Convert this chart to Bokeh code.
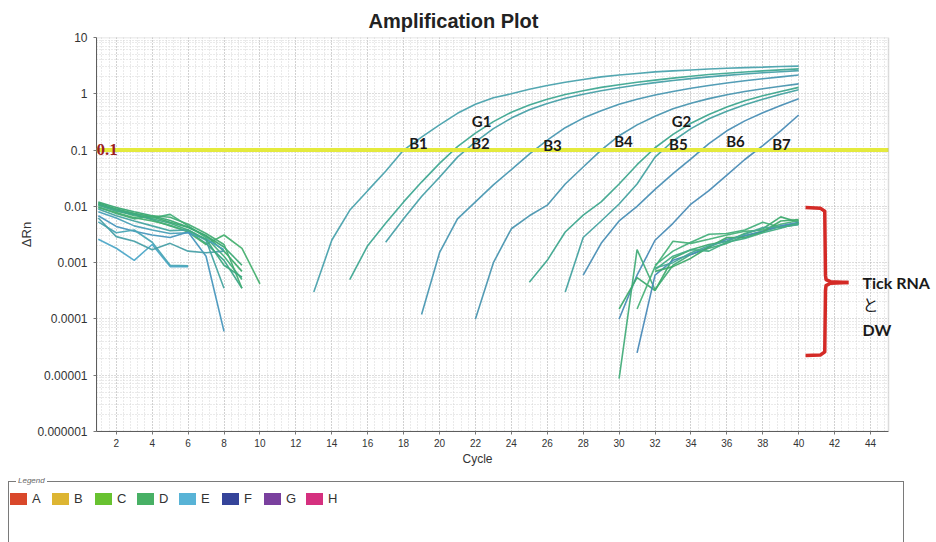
from bokeh.plotting import figure
from bokeh.models import (Range1d, FixedTicker, SingleIntervalTicker, NumeralTickFormatter,
                          Span, Label, BoxAnnotation, Title, Div)
from bokeh.layouts import column
from bokeh.embed import file_html
from bokeh.resources import INLINE

# ---------------- data (ΔRn per cycle) ----------------
threshold = 0.1

b1_start = 13
b1_dRn = [0.0003, 0.0025, 0.0085, 0.019, 0.042, 0.1, 0.17, 0.28, 0.45, 0.65, 0.85, 1.0, 1.2, 1.4,
          1.6, 1.8, 2.0, 2.15, 2.3, 2.45, 2.55, 2.65, 2.75, 2.85, 2.92, 2.98, 3.05, 3.1]
g1_start = 15
g1_dRn = [0.0005, 0.002, 0.005, 0.012, 0.027, 0.058, 0.115, 0.2, 0.32, 0.47, 0.63, 0.8, 0.97, 1.13,
          1.3, 1.45, 1.6, 1.75, 1.9, 2.05, 2.2, 2.32, 2.44, 2.55, 2.66, 2.77]
b2_start = 17
b2_dRn = [0.0023, 0.006, 0.015, 0.033, 0.075, 0.14, 0.24, 0.37, 0.52, 0.67, 0.83, 0.98, 1.13, 1.28,
          1.43, 1.58, 1.72, 1.86, 2.0, 2.12, 2.24, 2.36, 2.47, 2.58]
b3_start = 19
b3_dRn = [0.00012, 0.0015, 0.006, 0.012, 0.024, 0.045, 0.085, 0.15, 0.25, 0.37, 0.5, 0.65, 0.8,
          0.95, 1.1, 1.25, 1.4, 1.55, 1.7, 1.85, 2.0, 2.15]
b4_start = 22
b4_dRn = [0.0001, 0.001, 0.004, 0.0068, 0.0105, 0.025, 0.05, 0.1, 0.18, 0.28, 0.4, 0.54, 0.68, 0.82,
          0.96, 1.1, 1.23, 1.36, 1.5]
g2_start = 25
g2_dRn = [0.00045, 0.0011, 0.0035, 0.007, 0.012, 0.025, 0.055, 0.11, 0.19, 0.3, 0.43, 0.58, 0.75,
          0.92, 1.1, 1.3]
b5_start = 27
b5_dRn = [0.0003, 0.0028, 0.0055, 0.011, 0.025, 0.075, 0.145, 0.24, 0.36, 0.49, 0.64, 0.8, 0.98, 1.18]
b6_start = 28
b6_dRn = [0.0006, 0.0022, 0.0055, 0.01, 0.02, 0.038, 0.07, 0.13, 0.22, 0.33, 0.46, 0.62, 0.82]
b7_start = 30
b7_dRn = [0.0001, 0.0006, 0.0025, 0.005, 0.011, 0.019, 0.036, 0.068, 0.12, 0.22, 0.42]

# early-cycle background traces (start at cycle 1)
early_1 = [0.0115, 0.009, 0.0075, 0.0065, 0.0052, 0.0042, 0.003, 0.0016, 0.0007]
early_2 = [0.011, 0.0085, 0.0068, 0.0062, 0.0072, 0.0045, 0.0028, 0.0013, 0.0005]
early_3 = [0.0105, 0.0082, 0.0072, 0.0058, 0.0045, 0.0036, 0.0022, 0.0011, 0.00035]
early_4 = [0.0095, 0.0078, 0.0063, 0.0055, 0.0046, 0.0035, 0.0021, 0.0031, 0.0018, 0.00042]
early_5 = [0.012, 0.0095, 0.008, 0.0068, 0.0056, 0.0043, 0.003, 0.0019, 0.0009]
early_6 = [0.008, 0.0062, 0.0045, 0.0038, 0.0033, 0.0034, 0.0026, 0.0017]
early_7 = [0.0068, 0.0044, 0.0036, 0.0031, 0.0028, 0.0035, 0.0013, 0.00006]
early_8 = [0.0026, 0.0018, 0.0011, 0.0021, 0.00085, 0.00085]
early_9 = [0.0053, 0.0034, 0.0038, 0.0023, 0.0009, 0.00088]
early_10 = [0.0062, 0.0029, 0.0024, 0.0017, 0.0022, 0.0016, 0.0015, 0.0016]
early_11 = [0.0098, 0.0075, 0.006, 0.0068, 0.0064, 0.0048, 0.0033, 0.0021, 0.00035]
early_12 = [0.009, 0.0068, 0.0055, 0.0045, 0.0037, 0.0038, 0.0025, 0.00035]
early_13 = [0.0108, 0.0088, 0.0072, 0.006, 0.005, 0.0038, 0.0026, 0.0009, 0.00055]

# late traces: Tick RNA and DW (start cycle, values)
late_1_start, late_1 = 30, [0.0000087, 0.0017, 0.00033, 0.0009, 0.0014, 0.0018, 0.0022, 0.003, 0.0036, 0.0044, 0.005]
late_2_start, late_2 = 30, [0.00015, 0.00054, 0.00032, 0.0012, 0.0017, 0.0021, 0.0024, 0.0033, 0.004, 0.0065, 0.0052]
late_3_start, late_3 = 31, [0.00015, 0.00085, 0.0024, 0.0022, 0.0026, 0.0031, 0.0036, 0.0038, 0.0048, 0.0056]
late_4_start, late_4 = 31, [0.000025, 0.0006, 0.0011, 0.0014, 0.0019, 0.0026, 0.003, 0.0036, 0.0045, 0.0052]
late_5_start, late_5 = 32, [0.0009, 0.0016, 0.0023, 0.0032, 0.0033, 0.0038, 0.0052, 0.0042, 0.0048]
late_6_start, late_6 = 32, [0.0007, 0.00085, 0.0012, 0.0019, 0.0028, 0.0028, 0.0035, 0.0055, 0.0058]
late_7_start, late_7 = 32, [0.0008, 0.001, 0.0015, 0.002, 0.0024, 0.0032, 0.0042, 0.0043, 0.0047]
late_8_start, late_8 = 32, [0.00075, 0.0013, 0.0017, 0.0016, 0.0023, 0.0027, 0.0034, 0.0041, 0.0051]

x_first, x_last = 0.9, 45.0
y_ticks = [1e-6, 1e-5, 1e-4, 1e-3, 1e-2, 1e-1, 1, 10]
legend_names = ["A", "B", "C", "D", "E", "F", "G", "H"]

# ---------------- styles ----------------
amp_curves = [(b1_start, b1_dRn, "#4aa2ad"), (g1_start, g1_dRn, "#3fa892"), (b2_start, b2_dRn, "#48a0a8"),
              (b3_start, b3_dRn, "#4a98b2"), (b4_start, b4_dRn, "#4a96b0"), (g2_start, g2_dRn, "#3ea68e"),
              (b5_start, b5_dRn, "#45a2a0"), (b6_start, b6_dRn, "#4a8fb5"), (b7_start, b7_dRn, "#4a8cb6")]
early_curves = [(early_1, "#3dab6c"), (early_2, "#44b07a"), (early_3, "#3ea58a"), (early_4, "#47b070"),
                (early_5, "#3aa874"), (early_6, "#4aa0b8"), (early_7, "#4897bd"), (early_8, "#4ea8c8"),
                (early_9, "#4aa6b5"), (early_10, "#49a0a8"), (early_11, "#45ad75"), (early_12, "#46a4a0"),
                (early_13, "#3eaa80")]
late_curves = [(late_1_start, late_1, "#44ad7a"), (late_2_start, late_2, "#3fab70"),
               (late_3_start, late_3, "#4ab27a"), (late_4_start, late_4, "#4a8ab8"),
               (late_5_start, late_5, "#46b07c"), (late_6_start, late_6, "#3faa6c"),
               (late_7_start, late_7, "#48a896"), (late_8_start, late_8, "#43ad84")]
legend_colors = ["#d9482b", "#ddb532", "#68c230", "#48b065", "#58b3d6", "#35449a", "#7a409e", "#d5307f"]

FONT = "Liberation Sans"
FRAME_LEFT, FRAME_RIGHT = 96, 888      # pixel layout of plotting area
PX_PER_CYCLE = (FRAME_RIGHT - FRAME_LEFT) / (x_last - x_first)
FIG_W, FIG_H = 936, 476
x_view_end = x_first + (FIG_W - FRAME_LEFT) / PX_PER_CYCLE

p = figure(width=FIG_W, height=FIG_H, x_range=Range1d(x_first, x_view_end), y_range=Range1d(1e-6, 10),
           y_axis_type="log", output_backend="svg", toolbar_location=None,
           min_border_left=FRAME_LEFT, min_border_right=0, min_border_top=37, min_border_bottom=45)
p.background_fill_color = "white"
p.border_fill_color = "white"
p.outline_line_color = None

p.title.text = "Amplification Plot"
p.title.align = "left"
p.title.offset = 272
p.title.standoff = 11
p.title.text_font = FONT
p.title.text_font_size = "20px"
p.title.text_font_style = "bold"
p.title.text_color = "#222222"

y_minor = [k * t for t in y_ticks[:-1] for k in range(2, 10)]
p.yaxis.ticker = FixedTicker(ticks=y_ticks, minor_ticks=y_minor)
p.yaxis.formatter = NumeralTickFormatter(format="0.[000000]")
p.xaxis.ticker = SingleIntervalTicker(interval=2, num_minor_ticks=5)
p.xaxis.bounds = (x_first, x_last)

for ax in (p.xaxis, p.yaxis):
    ax.axis_line_color = "#555555"
    ax.major_tick_line_color = "#777777"
    ax.major_tick_out = 3
    ax.major_tick_in = 0
    ax.minor_tick_line_color = None
    ax.major_label_text_font = FONT
    ax.major_label_text_color = "#333333"
    ax.axis_label_text_font = FONT
    ax.axis_label_text_font_style = "normal"
    ax.axis_label_text_color = "#333333"
    ax.axis_label_text_font_size = "12px"
p.yaxis.major_label_text_font_size = "12px"
p.xaxis.major_label_text_font_size = "10px"
p.xaxis.major_label_standoff = 3
p.yaxis.axis_label = "ΔRn"
p.yaxis.axis_label_text_font_size = "13px"
p.yaxis.axis_label_standoff = 0

p.add_layout(Title(text="Cycle", align="left", offset=366, text_font=FONT, text_font_size="12px",
                   text_font_style="normal", text_color="#333333", standoff=0), "below")

for g in (p.xgrid, p.ygrid):
    g.grid_line_color = "#b8b8b8"
    g.grid_line_dash = "1 2"
    g.minor_grid_line_color = "#d4d4d4"
    g.minor_grid_line_dash = "1 2"
p.xgrid.bounds = (x_first, x_last)

def draw(start, vals, color):
    xs = list(range(start, start + len(vals)))
    p.line(xs, vals, line_color=color, line_width=1.6, line_alpha=0.95)

for start, vals, c in amp_curves:
    draw(start, vals, c)
for vals, c in early_curves:
    draw(1, vals, c)
for start, vals, c in late_curves:
    draw(start, vals, c)

# threshold
p.add_layout(Span(location=threshold, dimension="width", line_color="#e4ea3c", line_width=4))
p.add_layout(Label(x=x_first, y=threshold, text="0.1", text_font="Liberation Serif", text_font_style="bold",
                   text_font_size="17px", text_color="#9c1f23", text_baseline="alphabetic",
                   x_offset=0, y_offset=1))

# blank margin right of the plotting area, and the plotting-area border
p.add_layout(BoxAnnotation(left=x_last, fill_color="white", fill_alpha=1, line_alpha=0))
p.add_layout(BoxAnnotation(left=x_first, right=x_last, bottom=1e-6, top=10, fill_alpha=0,
                           line_color="#8a8a8a", line_width=1.5))

# sample labels (annotation placement)
label_text = ["B1", "B2", "G1", "B3", "B4", "G2", "B5", "B6", "B7"]
label_x = [18.83, 22.28, 22.34, 26.29, 30.24, 33.47, 33.3, 36.48, 39.04]
label_y = [0.131, 0.131, 0.329, 0.121, 0.142, 0.329, 0.126, 0.142, 0.129]
for t, lx, ly in zip(label_text, label_x, label_y):
    p.add_layout(Label(x=lx, y=ly, text=t, text_align="center", text_baseline="middle",
                       text_font="Lato", text_font_style="bold", text_font_size="15px",
                       text_color="#1a1a1a"))

# red brace around Tick RNA / DW traces
brace_x = [40.38, 41.2, 41.45, 41.49, 41.52, 41.77, 42.77]
brace_top_y = [0.0095, 0.0093, 0.0082, 0.0006, 0.0005, 0.00046, 0.000445]
brace_bot_y = [0.0000225, 0.0000228, 0.000026, 0.00032, 0.00039, 0.00043, 0.000445]
p.line(brace_x, brace_top_y, line_color="#d42a26", line_width=3.5, line_join="round")
p.line(brace_x, brace_bot_y, line_color="#d42a26", line_width=3.5, line_join="round")

for t, ly, fnt in [("Tick RNA", 0.000445, "Lato"), ("と", 0.000181, "Noto Sans CJK JP"),
                   ("DW", 0.0000652, "Lato")]:
    p.add_layout(Label(x=43.55, y=ly, text=t, text_align="left", text_baseline="middle",
                       text_font=fnt, text_font_style="bold" if fnt == "Lato" else "normal",
                       text_font_size="16px", text_color="#1a1a1a"))

# ---------------- legend group box ----------------
parts = ['<div style="position:relative;width:936px;height:66px;overflow:hidden;'
         'font-family:\'Liberation Sans\',Arial,sans-serif;background:white;">',
         '<div style="position:absolute;left:8px;top:5px;width:896px;height:70px;'
         'border:1px solid #7a7a7a;"></div>',
         '<span style="position:absolute;left:16px;top:0px;line-height:10px;background:white;'
         'padding:0 2px;font-size:8px;font-style:italic;color:#666;">Legend</span>']
for i, (name, c) in enumerate(zip(legend_names, legend_colors)):
    x0 = 10 + round(42.3 * i)
    parts.append(f'<span style="position:absolute;left:{x0}px;top:17px;width:17px;height:12px;'
                 f'background:{c};border:1px solid {c};box-sizing:border-box;"></span>')
    parts.append(f'<span style="position:absolute;left:{x0 + 22}px;top:15px;line-height:16px;'
                 f'font-size:13px;color:#333;">{name}</span>')
parts.append('</div>')
legend_box = Div(text="".join(parts), width=936, height=66, margin=0)

layout = column(p, legend_box, spacing=0)
open("out.html", "w").write(file_html(layout, INLINE))
